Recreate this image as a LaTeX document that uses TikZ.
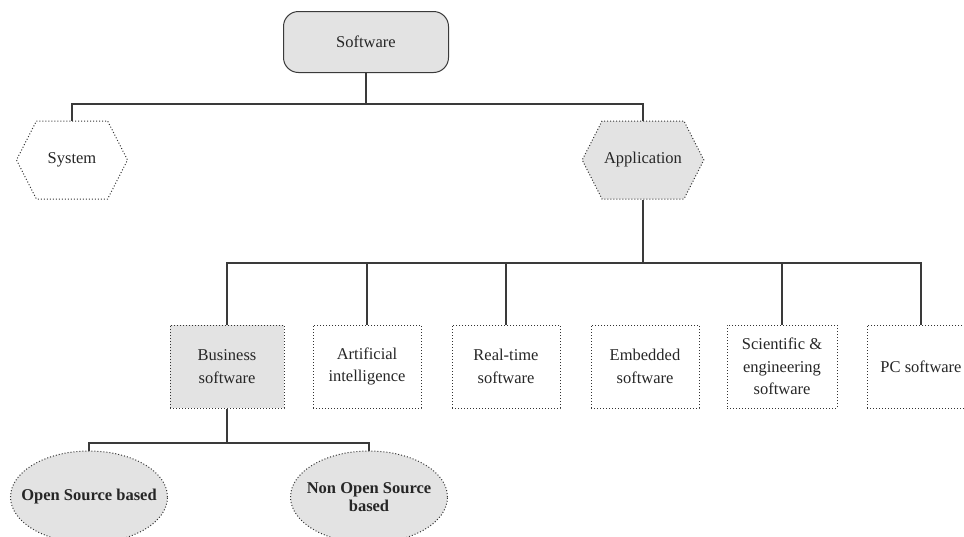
\documentclass[tikz,border=0pt]{standalone}
\usepackage{fontspec}
\setmainfont{Liberation Serif}
\usetikzlibrary{shapes.geometric,shapes.symbols}

\definecolor{boxfill}{HTML}{E3E3E3}
\definecolor{wire}{HTML}{3A3A3A}

\tikzset{
  every node/.style={font=\fontsize{16.5}{22.5}\selectfont, align=center, text=black!85},
  dotborder/.style={draw=black!80, line width=1pt, dash pattern=on 1pt off 2pt},
  rootbox/.style={rectangle, rounded corners=15pt, draw=wire, line width=1pt,
    fill=boxfill, minimum width=165pt, minimum height=61pt},
  hexbox/.style={signal, signal to=east and west, signal pointer angle=126,
    dotborder, minimum width=111pt, minimum height=78pt, inner sep=2pt},
  catbox/.style={rectangle, dotborder, minimum width=108pt, minimum height=83pt,
    inner sep=2pt},
  leafoval/.style={ellipse, dotborder, fill=boxfill, minimum width=157pt,
    minimum height=92pt, inner xsep=-20pt, inner ysep=0pt,
    font=\fontsize{16.5}{18}\selectfont\bfseries},
  wireline/.style={draw=wire, line width=1.2pt},
}

\begin{document}
\begin{tikzpicture}[x=1pt, y=-1pt]
  \clip (0,0) rectangle (964,536);

  % top level
  \node[rootbox] (sw) at (366,42) {Software};

  \node[hexbox] (sys) at (72,160) {System};
  \node[hexbox, fill=boxfill] (app) at (643,160) {Application};

  % application categories
  \node[catbox, fill=boxfill, minimum width=114pt] (bs) at (227,366.5) {Business\\software};
  \node[catbox] (ai) at (367,366.5) {Artificial\\intelligence};
  \node[catbox] (rt) at (506,366.5) {Real-time\\software};
  \node[catbox] (emb) at (645,366.5) {Embedded\\software};
  \node[catbox, minimum width=110pt] (sci) at (782,366.5) {Scientific \&\\engineering\\software};
  \node[catbox] (pc) at (921,366.5) {PC software};

  % business software kinds
  \node[leafoval] (oss) at (89,497) {Open Source based};
  \node[leafoval] (noss) at (369,497) {Non Open Source\\based};

  % bus levels
  \coordinate (busA) at (0,104);
  \coordinate (busB) at (0,263);
  \coordinate (busC) at (0,443);

  % connectors
  \draw[wireline] (sw.south) |- (busA -| sys.north) -- (sys.north);
  \draw[wireline] (sw.south) |- (busA -| app.north) -- (app.north);

  \draw[wireline] (app.south) |- (busB -| bs.north) -- (bs.north);
  \draw[wireline] (app.south) |- (busB -| pc.north) -- (pc.north);
  \draw[wireline] (busB -| ai.north) -- (ai.north);
  \draw[wireline] (busB -| rt.north) -- (rt.north);
  \draw[wireline] (busB -| sci.north) -- (sci.north);

  \draw[wireline] (bs.south) |- (busC -| oss.north) -- (oss.north);
  \draw[wireline] (bs.south) |- (busC -| noss.north) -- (noss.north);
\end{tikzpicture}
\end{document}
